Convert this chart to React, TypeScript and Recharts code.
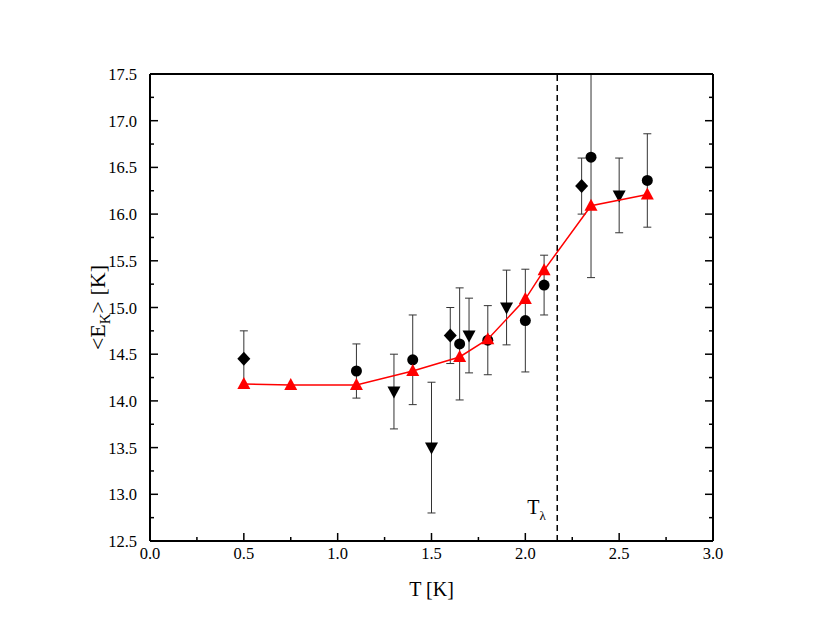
import React from 'react';
import { ComposedChart, Scatter, XAxis, YAxis, ErrorBar, ReferenceLine } from 'recharts';

// red model curve (up triangles)
const modelT = [0.5, 0.75, 1.1, 1.4, 1.65, 1.8, 2.0, 2.1, 2.35, 2.65];
const modelE = [14.18, 14.17, 14.17, 14.32, 14.47, 14.66, 15.09, 15.4, 16.09, 16.21];

// circles
const circT = [1.1, 1.4, 1.65, 1.8, 2.0, 2.1, 2.35, 2.65];
const circE = [14.32, 14.44, 14.61, 14.65, 14.86, 15.24, 16.61, 16.36];
const circErr = [0.29, 0.48, 0.6, 0.37, 0.55, 0.32, 1.29, 0.5];

// diamonds
const diaT = [0.5, 1.6, 2.3];
const diaE = [14.45, 14.7, 16.3];
const diaErr = [0.3, 0.3, 0.3];

// down triangles
const downT = [1.3, 1.5, 1.7, 1.9, 2.5];
const downE = [14.1, 13.5, 14.7, 15.0, 16.2];
const downErr = [0.4, 0.7, 0.4, 0.4, 0.4];

const xTicks = [0, 0.25, 0.5, 0.75, 1, 1.25, 1.5, 1.75, 2, 2.25, 2.5, 2.75, 3];
const yTicks = [12.5, 12.75, 13, 13.25, 13.5, 13.75, 14, 14.25, 14.5, 14.75, 15, 15.25, 15.5, 15.75, 16, 16.25, 16.5, 16.75, 17, 17.25, 17.5];
const Y_MIN = 12.5;
const Y_MAX = 17.5;
const T_LAMBDA = 2.17;

// error bars are cut at the frame like in the original plot
const zip = (xs: number[], ys: number[], es?: number[]) =>
  xs.map((x, i) => {
    const e = es ? es[i] : 0;
    return { x, y: ys[i], err: [Math.min(e, ys[i] - Y_MIN), Math.min(e, Y_MAX - ys[i])] };
  });

const modelData = zip(modelT, modelE);
const circData = zip(circT, circE, circErr);
const diaData = zip(diaT, diaE, diaErr);
const downData = zip(downT, downE, downErr);

const FONT = "'Liberation Serif', 'Times New Roman', serif";
const txt = (size: number) => ({ fontFamily: FONT, fontSize: size });

const isMajor = (v: number, step: number) => Math.abs(v / step - Math.round(v / step)) < 1e-6;

const BottomTick = (p: any) => {
  const v = p.payload.value;
  const major = isMajor(v, 0.5);
  return (
    <g>
      <line x1={p.x} x2={p.x} y1={p.y} y2={p.y - (major ? 8 : 4)} stroke="#000" strokeWidth={1.5} />
      {major && (
        <text x={p.x} y={p.y + 18} textAnchor="middle" style={txt(16.5)} fill="#000">
          {v.toFixed(1)}
        </text>
      )}
    </g>
  );
};

const TopTick = (p: any) => {
  const major = isMajor(p.payload.value, 0.5);
  return <line x1={p.x} x2={p.x} y1={p.y} y2={p.y + (major ? 8 : 4)} stroke="#000" strokeWidth={1.5} />;
};

const LeftTick = (p: any) => {
  const v = p.payload.value;
  const major = isMajor(v, 0.5);
  return (
    <g>
      <line x1={p.x} x2={p.x + (major ? 8 : 4)} y1={p.y} y2={p.y} stroke="#000" strokeWidth={1.5} />
      {major && (
        <text x={p.x - 13} y={p.y + 6} textAnchor="end" style={txt(16.5)} fill="#000">
          {v.toFixed(1)}
        </text>
      )}
    </g>
  );
};

const RightTick = (p: any) => {
  const major = isMajor(p.payload.value, 0.5);
  return <line x1={p.x} x2={p.x - (major ? 8 : 4)} y1={p.y} y2={p.y} stroke="#000" strokeWidth={1.5} />;
};

const Circle = (p: any) => <circle cx={p.cx} cy={p.cy} r={5.5} fill="#000" />;
const Diamond = (p: any) => (
  <path d={`M${p.cx},${p.cy - 7}L${p.cx + 6.5},${p.cy}L${p.cx},${p.cy + 7}L${p.cx - 6.5},${p.cy}Z`} fill="#000" />
);
const DownTri = (p: any) => (
  <path d={`M${p.cx - 6.5},${p.cy - 5}L${p.cx + 6.5},${p.cy - 5}L${p.cx},${p.cy + 7}Z`} fill="#000" />
);
const UpTri = (p: any) => (
  <path d={`M${p.cx - 6.5},${p.cy + 5}L${p.cx + 6.5},${p.cy + 5}L${p.cx},${p.cy - 7}Z`} fill="#ff0000" />
);

const YTitle = (p: any) => {
  const vb = p.viewBox;
  const cx = vb.x - 44;
  const cy = vb.y + vb.height / 2;
  return (
    <text x={cx} y={cy} transform={`rotate(-90 ${cx} ${cy})`} textAnchor="middle" style={txt(22)} fill="#000">
      {'<E'}
      <tspan style={txt(15)} dy={5}>K</tspan>
      <tspan dy={-5}>{'> [K]'}</tspan>
    </text>
  );
};

const XTitle = (p: any) => {
  const vb = p.viewBox;
  return (
    <text x={vb.x + vb.width / 2} y={vb.y + 55} textAnchor="middle" style={txt(20)} fill="#000">
      T [K]
    </text>
  );
};

const LambdaLabel = (p: any) => {
  const vb = p.viewBox;
  return (
    <text x={vb.x - 30} y={vb.y + vb.height - 27} style={txt(20)} fill="#000">
      T<tspan style={txt(13)} dy={6}>λ</tspan>
    </text>
  );
};

export default function App() {
  return (
    <div style={{ position: 'absolute', left: 0, top: 0, width: 830, height: 637, background: '#fff' }}>
      <ComposedChart width={830} height={637} margin={{ top: 73, right: 116, bottom: 95, left: 149 }}>
        <XAxis
          type="number"
          dataKey="x"
          domain={[0, 3]}
          ticks={xTicks}
          interval={0}
          height={1}
          tickSize={0}
          tickMargin={0}
          tick={<BottomTick />}
          tickLine={false}
          axisLine={{ stroke: '#000', strokeWidth: 2 }}
          allowDataOverflow
          label={<XTitle />}
        />
        <XAxis
          xAxisId="top"
          orientation="top"
          type="number"
          domain={[0, 3]}
          ticks={xTicks}
          interval={0}
          height={1}
          tickSize={0}
          tickMargin={0}
          tick={<TopTick />}
          tickLine={false}
          axisLine={{ stroke: '#000', strokeWidth: 2 }}
          allowDataOverflow
        />
        <YAxis
          type="number"
          dataKey="y"
          domain={[Y_MIN, Y_MAX]}
          ticks={yTicks}
          interval={0}
          width={1}
          tickSize={0}
          tickMargin={0}
          tick={<LeftTick />}
          tickLine={false}
          axisLine={{ stroke: '#000', strokeWidth: 2 }}
          allowDataOverflow
          label={<YTitle />}
        />
        <YAxis
          yAxisId="right"
          orientation="right"
          type="number"
          domain={[Y_MIN, Y_MAX]}
          ticks={yTicks}
          interval={0}
          width={1}
          tickSize={0}
          tickMargin={0}
          tick={<RightTick />}
          tickLine={false}
          axisLine={{ stroke: '#000', strokeWidth: 2 }}
          allowDataOverflow
        />
        <ReferenceLine x={T_LAMBDA} stroke="#000" strokeWidth={1.5} strokeDasharray="6 4" label={<LambdaLabel />} />
        <Scatter data={diaData} shape={<Diamond />} isAnimationActive={false}>
          <ErrorBar dataKey="err" direction="y" width={4} stroke="#333" strokeWidth={1} />
        </Scatter>
        <Scatter data={downData} shape={<DownTri />} isAnimationActive={false}>
          <ErrorBar dataKey="err" direction="y" width={4} stroke="#333" strokeWidth={1} />
        </Scatter>
        <Scatter data={circData} shape={<Circle />} isAnimationActive={false}>
          <ErrorBar dataKey="err" direction="y" width={4} stroke="#333" strokeWidth={1} />
        </Scatter>
        <Scatter
          data={modelData}
          shape={<UpTri />}
          line={{ stroke: '#ff0000', strokeWidth: 1.5 }}
          isAnimationActive={false}
        />
      </ComposedChart>
    </div>
  );
}
